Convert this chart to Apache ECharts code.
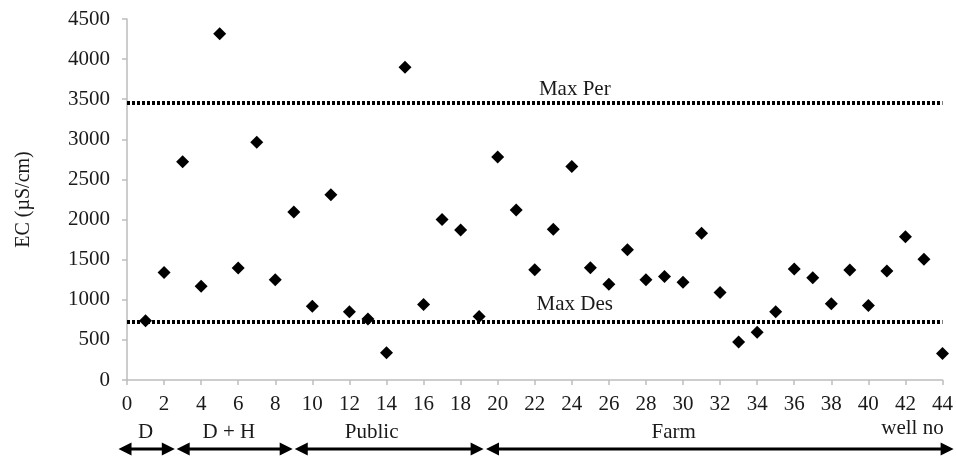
<!DOCTYPE html>
<html><head><meta charset="utf-8">
<script src="https://cdn.jsdelivr.net/npm/echarts@6/dist/echarts.min.js"></script>
<style>html,body{margin:0;padding:0;background:#fff}#c{width:956px;height:457px}</style>
</head><body><div id="c"></div>
<script>
// ---- data ----
var wellNo = [1,2,3,4,5,6,7,8,9,10,11,12,13,14,15,16,17,18,19,20,21,22,23,24,25,26,27,28,29,30,31,32,33,34,35,36,37,38,39,40,41,42,43,44];
var ecValues = [740,1340,2720,1170,4315,1395,2965,1250,2095,920,2310,850,760,340,3900,940,2000,1870,790,2780,2120,1375,1880,2660,1400,1195,1625,1250,1290,1220,1830,1090,475,595,850,1385,1275,950,1370,930,1360,1785,1505,330];
var maxPer = 3460, maxDes = 730;
var refNames = ['Max Per','Max Des'];
var groupNames = ['D','D + H','Public','Farm'];
var groupStart = [-0.46, 2.68, 9.05, 19.37];
var groupEnd = [2.58, 8.94, 19.24, 44.6];
var groupLabelAt = [1, 5.5, 13.2, 29.5];
var xAxisName = 'well no';
var yAxisName = 'EC (µS/cm)';

var FONT = 'Liberation Serif';
var TXT = '#1a1a1a';
var chart = echarts.init(document.getElementById('c'), null, {renderer:'canvas'});
var refLine = {color:'#000', width:4, type:[3,2], opacity:1};
chart.setOption({
  animation:false,
  grid:{left:127, right:12, top:19, bottom:77},
  xAxis:{type:'value', min:0, max:44, interval:2,
    axisLine:{show:true, lineStyle:{color:'#bdbdbd', width:1.5}},
    axisTick:{show:true, length:5, lineStyle:{color:'#bdbdbd', width:1.5}},
    splitLine:{show:false},
    axisLabel:{fontFamily:FONT, fontSize:21, color:TXT, margin:14, formatter:function(v){return String(v);}}
  },
  yAxis:{type:'value', min:0, max:4500, interval:500,
    name:yAxisName, nameLocation:'middle', nameGap:93,
    nameTextStyle:{fontFamily:FONT, fontSize:20, color:TXT},
    axisLine:{show:true, lineStyle:{color:'#bdbdbd', width:1.5}},
    axisTick:{show:true, length:5, lineStyle:{color:'#bdbdbd', width:1.5}},
    splitLine:{show:false},
    axisLabel:{fontFamily:FONT, fontSize:21, color:TXT, margin:17, formatter:function(v){return String(v);}}
  },
  series:[{
    type:'scatter', symbol:'diamond', symbolSize:13,
    itemStyle:{color:'#000', opacity:1},
    data: wellNo.map(function(w,i){return [w, ecValues[i]];}),
    markLine:{silent:true, symbol:'none',
      lineStyle:refLine,
      label:{show:true, position:'middle', formatter:'{b}', fontFamily:FONT, fontSize:21, color:TXT, padding:[0,0,0,80]},
      data:[
        {yAxis:maxPer, name:refNames[0], label:{distance:2}},
        {yAxis:maxDes, name:refNames[1], label:{distance:6}}
      ]
    },
    z:3
  }]
});

// ---- group annotations beneath the axis ----
function px(v){ return chart.convertToPixel({gridIndex:0}, [v,0])[0]; }
var arrowY = 449, head = 13, hh = 6.5;
var g = [];
for (var i=0;i<groupNames.length;i++){
  var x1 = px(groupStart[i]), x2 = px(groupEnd[i]);
  g.push({type:'line', shape:{x1:x1+head-2, y1:arrowY, x2:x2-head+2, y2:arrowY}, style:{stroke:'#000', lineWidth:3}});
  g.push({type:'polygon', shape:{points:[[x1,arrowY],[x1+head,arrowY-hh],[x1+head,arrowY+hh]]}, style:{fill:'#000'}});
  g.push({type:'polygon', shape:{points:[[x2,arrowY],[x2-head,arrowY-hh],[x2-head,arrowY+hh]]}, style:{fill:'#000'}});
  g.push({type:'text', x:px(groupLabelAt[i]), y:432, style:{text:groupNames[i], font:'21px "Liberation Serif"', fill:TXT, textAlign:'center', textVerticalAlign:'middle'}});
}
g.push({type:'text', x:px(44)-30, y:428, style:{text:xAxisName, font:'21px "Liberation Serif"', fill:TXT, textAlign:'center', textVerticalAlign:'middle'}});
chart.setOption({graphic:g});
</script></body></html>
